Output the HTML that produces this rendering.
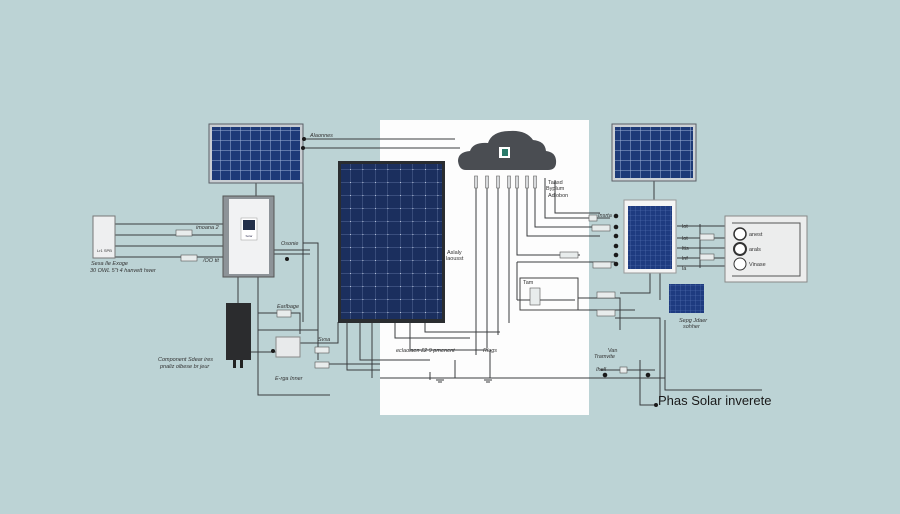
<!DOCTYPE html>
<html><head><meta charset="utf-8"><style>
html,body{margin:0;padding:0;background:#bcd3d5;}
svg{display:block;font-family:"Liberation Sans",sans-serif;}
</style></head><body>
<svg width="900" height="514" viewBox="0 0 900 514" xmlns="http://www.w3.org/2000/svg">
<defs>
<pattern id="g1" width="10" height="10" patternUnits="userSpaceOnUse"><rect width="10" height="10" fill="#1d3a78"/><path d="M0 0H10M0 0V10" stroke="#9fb4d8" stroke-width="1"/></pattern>
<pattern id="g2" width="12.5" height="13" patternUnits="userSpaceOnUse"><rect width="13" height="13" fill="#1b2f5e"/><path d="M0 0H13M0 0V13" stroke="#6d83b0" stroke-width="0.7"/><circle cx="0" cy="0" r="1" fill="#dfe8f5"/></pattern>
<pattern id="g3" width="5" height="5" patternUnits="userSpaceOnUse"><rect width="5" height="5" fill="#1e3b80"/><path d="M0 0H5M0 0V5" stroke="#5a76b6" stroke-width="0.6"/></pattern>
</defs>
<rect width="900" height="514" fill="#bcd3d5"/>
<rect x="380" y="120" width="209" height="295" fill="#fdfdfd"/>

<g stroke="#3a3d40" stroke-width="1" fill="none">
<path d="M302 139H455M302 148H380M300 148H460"/>
<path d="M256 182V196"/>
<path d="M115 224H223M115 235H223M115 246H223M115 257H223"/>
<path d="M303 138V322M303 243H318V360"/>
<path d="M273 250H310M273 254H310"/>
<path d="M238 276V303M258 276V395H330"/>
<path d="M258 313H300V334M258 330H318"/>
<path d="M250 352H276M300 343H338V322"/>
<path d="M318 364H380"/>
<path d="M347 323V370H380M360 323V360H430M372 323V378M395 323V338H470M410 323V350H488M425 323V332H500"/>
<path d="M430 372V380M455 360V378M490 350V378"/>
<path d="M380 378H665"/>
<path d="M476 178V355M487 178V348M498 178V335M509 178V323"/>
<path d="M517 178V255H580M527 178V236H600M535 178V227H605M545 178V210V218H610M555 180V213H600"/>
<path d="M517 262H615M517 262V300M517 300H575"/>
<path d="M578 298H620V330M578 310H635M615 318H660V400"/>
<path d="M650 273V293H620M660 273V300"/>
<path d="M665 320V390H762"/>
<path d="M600 370H655M640 360V405H655"/>
<path d="M654 180V200"/>
<path d="M677 226H728M677 238H728M677 248H728M677 258H728M677 266H728M700 224V268"/>
<path d="M750 234H795M750 249H795M750 264H795"/>
</g>
<g fill="#d8dadc" stroke="#666" stroke-width="0.6">
<rect x="474.5" y="176" width="3" height="12"/><rect x="485.5" y="176" width="3" height="12"/><rect x="496.5" y="176" width="3" height="12"/><rect x="507.5" y="176" width="3" height="12"/><rect x="515.5" y="176" width="3" height="12"/><rect x="525.5" y="176" width="3" height="12"/><rect x="533.5" y="176" width="3" height="12"/>
</g>
<g stroke="#3a3d40" stroke-width="1"><path d="M436 380H444M438 382H442M484 380H492M486 382H490"/></g>

<rect x="209" y="124" width="94" height="59" fill="#c8cdd2" stroke="#5a5f66"/>
<rect x="212" y="127" width="88" height="53" fill="url(#g1)"/>
<rect x="223" y="196" width="51" height="81" fill="#8d9398" stroke="#555"/>
<rect x="229" y="199" width="40" height="75" fill="#f1f2f3"/>
<rect x="241" y="218" width="16" height="22" fill="#fff" stroke="#999" stroke-width="0.5"/>
<rect x="243" y="220" width="12" height="10" fill="#23304a"/>
<text x="249" y="237" font-size="3" text-anchor="middle" fill="#335">Solar</text>
<rect x="93" y="216" width="22" height="42" fill="#eeeff0" stroke="#777"/>
<text x="97" y="252" font-size="4" fill="#333">Lr1 SPB</text>
<rect x="226" y="303" width="25" height="57" fill="#2b2c2e"/>
<rect x="233" y="360" width="3" height="8" fill="#222"/><rect x="240" y="360" width="3" height="8" fill="#222"/>
<rect x="276" y="337" width="24" height="20" fill="#e8eaeb" stroke="#888"/>
<rect x="338" y="161" width="107" height="162" fill="#2a2d30"/>
<rect x="341" y="164" width="101" height="155" fill="url(#g2)"/>
<path d="M466 170H548Q557 170 556 160Q555 152 546 151Q545 141 533 140Q526 130 510 131Q492 131 488 143Q473 142 470 151Q458 152 458 161Q459 170 466 170Z" fill="#4a4d52"/>
<rect x="499" y="147" width="11" height="11" fill="#fff"/><rect x="502" y="149" width="6" height="7" fill="#2a7a6a"/>
<rect x="612" y="124" width="84" height="57" fill="#cdd2d6" stroke="#5a5f66"/>
<rect x="615" y="127" width="78" height="51" fill="url(#g1)"/>
<rect x="624" y="200" width="52" height="73" fill="#f4f4f4" stroke="#999"/>
<rect x="628" y="206" width="44" height="63" fill="url(#g3)"/>
<rect x="725" y="216" width="82" height="66" fill="#eceded" stroke="#888"/>
<path d="M732 223H800V276H732" fill="none" stroke="#555"/>
<circle cx="740" cy="234" r="6" fill="#fff" stroke="#333" stroke-width="1.5"/>
<circle cx="740" cy="249" r="6" fill="#fff" stroke="#333" stroke-width="2"/>
<circle cx="740" cy="264" r="6" fill="#fff" stroke="#333"/>
<rect x="669" y="284" width="35" height="29" fill="url(#g3)"/>
<g fill="#1a1a1a"><circle cx="616" cy="216" r="2.3"/><circle cx="616" cy="227" r="2.3"/><circle cx="616" cy="236" r="2.3"/><circle cx="616" cy="246" r="2.3"/><circle cx="616" cy="255" r="2.3"/><circle cx="616" cy="264" r="2.3"/><circle cx="605" cy="375" r="2.3"/><circle cx="648" cy="375" r="2.3"/><circle cx="656" cy="405" r="2"/><circle cx="287" cy="259" r="2"/><circle cx="303" cy="148" r="2"/><circle cx="304" cy="139" r="2"/><circle cx="273" cy="351" r="2"/></g>
<g fill="#e8ecec" stroke="#555" stroke-width="0.6">
<rect x="176" y="230" width="16" height="6"/><rect x="181" y="255" width="16" height="6"/>
<rect x="277" y="310" width="14" height="7"/><rect x="315" y="347" width="14" height="6"/><rect x="315" y="362" width="14" height="6"/>
<rect x="589" y="215" width="8" height="6"/><rect x="592" y="225" width="18" height="6"/><rect x="560" y="252" width="18" height="6"/><rect x="593" y="262" width="18" height="6"/>
<rect x="597" y="292" width="18" height="6"/><rect x="597" y="310" width="18" height="6"/>
<rect x="700" y="234" width="14" height="6"/><rect x="700" y="254" width="14" height="6"/>
<rect x="530" y="288" width="10" height="17"/><rect x="620" y="367" width="7" height="6"/>
</g>
<path d="M520 278H578V310H520Z" fill="none" stroke="#444"/>
<g font-size="5.5" fill="#333" font-style="italic">
<text x="310" y="137">Alaonnes</text>
<text x="196" y="229">imoana 2</text>
<text x="203" y="262">/OO tit</text>
<text x="281" y="245">Osonie</text>
<text x="91" y="265">Sesa Ile Exoge</text>
<text x="90" y="272">30 OWL 5"t 4 hanvett hwer</text>
<text x="158" y="361">Component Sdear ires</text>
<text x="160" y="368">pnaliz olbese br jeur</text>
<text x="275" y="380">E-rga Inner</text>
<text x="277" y="308">Earlbage</text>
<text x="318" y="341">Svsa</text>
<text x="396" y="352">eclaolaen £2 9 pmenent</text>
<text x="483" y="352">Rlogs</text>
<text x="447" y="254" font-style="normal">Aslaly</text>
<text x="446" y="260" font-style="normal">laousst</text>
<text x="548" y="184" font-style="normal">Taasd</text>
<text x="546" y="190" font-style="normal">Byplum</text>
<text x="548" y="197" font-style="normal">Adlobon</text>
<text x="598" y="217">Insrta</text>
<text x="523" y="284" font-style="normal">Tam</text>
<text x="596" y="371">Ihell</text>
<text x="594" y="358">Tramvite</text>
<text x="608" y="352" font-style="normal">Van</text>
<text x="679" y="322">Sepg Jdaer</text>
<text x="683" y="328">sohher</text>
<text x="682" y="228" font-style="normal">lot</text><text x="682" y="240" font-style="normal">lot</text><text x="682" y="250" font-style="normal">ltis</text><text x="682" y="260" font-style="normal">lnf</text><text x="682" y="270" font-style="normal">la</text>
<text x="749" y="236" font-style="normal">anest</text><text x="749" y="251" font-style="normal">arals</text><text x="749" y="266" font-style="normal">Vinase</text>
</g>
<text x="658" y="405" font-size="13" fill="#1a1a1a">Phas Solar inverete</text>
</svg>
</body></html>
